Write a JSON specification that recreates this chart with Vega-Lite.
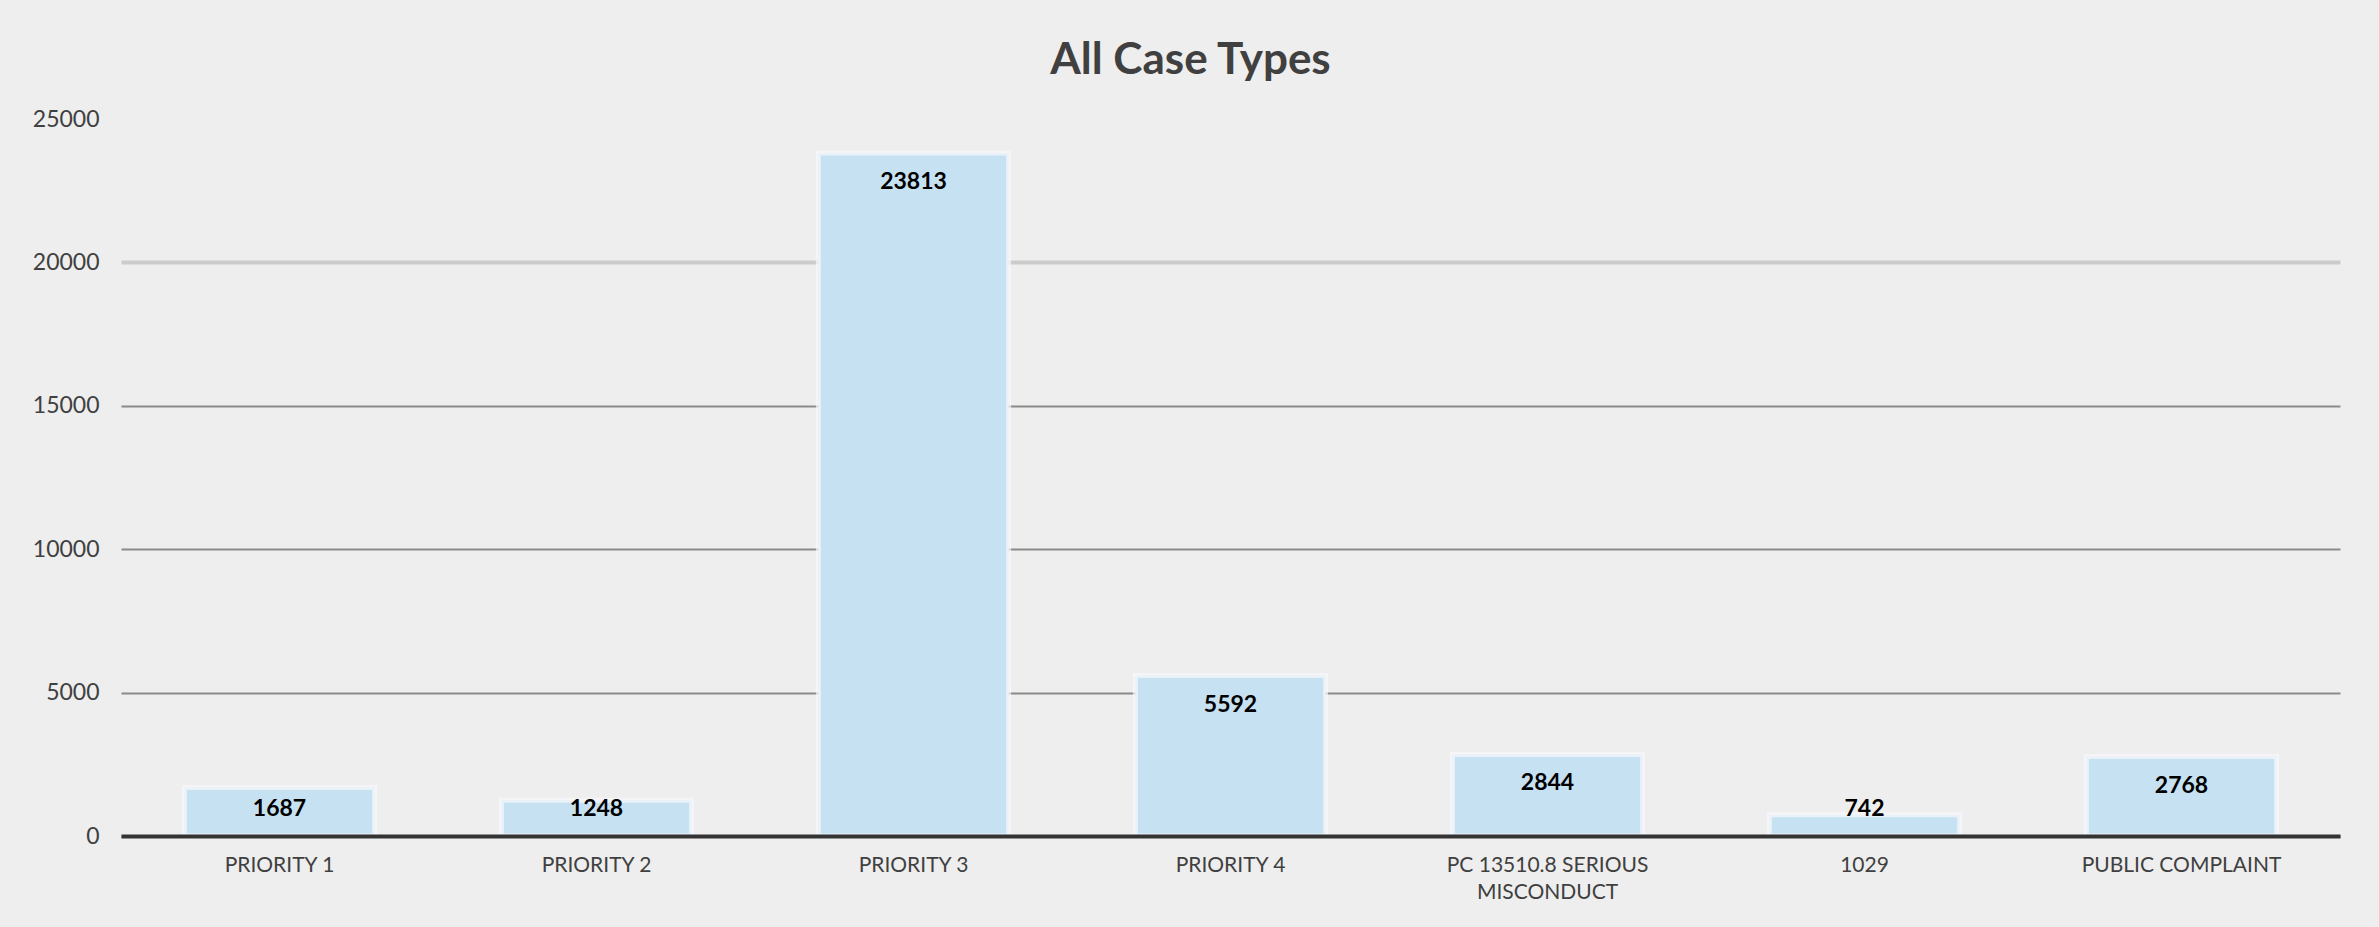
{
  "$schema": "https://vega.github.io/schema/vega-lite/v6.json",
  "width": 2219,
  "height": 717,
  "autosize": {"type": "none"},
  "padding": {"left": 121, "top": 119, "right": 39, "bottom": 91},
  "background": "#eeeeee",
  "title": {
    "text": "All Case Types",
    "font": "Lato",
    "fontSize": 44,
    "fontWeight": "bold",
    "color": "#404040",
    "anchor": "middle",
    "frame": "group",
    "dx": -40,
    "offset": 25
  },
  "data": {
    "values": [
      {"type": "PRIORITY 1", "count": 1687},
      {"type": "PRIORITY 2", "count": 1248},
      {"type": "PRIORITY 3", "count": 23813},
      {"type": "PRIORITY 4", "count": 5592},
      {"type": "PC 13510.8 SERIOUS MISCONDUCT", "count": 2844},
      {"type": "1029", "count": 742},
      {"type": "PUBLIC COMPLAINT", "count": 2768}
    ]
  },
  "encoding": {
    "x": {
      "field": "type",
      "type": "nominal",
      "sort": null,
      "scale": {"paddingInner": 0.4, "paddingOuter": 0.2},
      "axis": {
        "title": null,
        "labelAngle": 0,
        "labelFont": "Lato",
        "labelFontSize": 21,
        "labelColor": "#404040",
        "labelPadding": 18,
        "labelLineHeight": 27,
        "labelLimit": 0,
        "labelExpr": "datum.value == 'PC 13510.8 SERIOUS MISCONDUCT' ? ['PC 13510.8 SERIOUS', 'MISCONDUCT'] : datum.value",
        "ticks": false,
        "domainColor": "#333333",
        "domainWidth": 4,
        "zindex": 1
      }
    }
  },
  "layer": [
    {
      "mark": {"type": "bar", "color": "#c6e2f2", "stroke": "#f8f8fc", "strokeWidth": 5, "strokeOpacity": 0.7},
      "encoding": {
        "y": {
          "field": "count",
          "type": "quantitative",
          "scale": {"domain": [0, 25000], "nice": false},
          "axis": {
            "title": null,
            "values": [0, 5000, 10000, 15000, 20000, 25000],
            "format": "d",
            "labelFont": "Lato",
            "labelFontSize": 23,
            "labelColor": "#404040",
            "labelPadding": 22,
            "ticks": false,
            "domain": false,
            "grid": true,
            "gridColor": {"condition": {"test": "datum.value == 20000", "value": "#cbcbcb"}, "value": "#8a8a8a"},
            "gridOpacity": {"condition": {"test": "datum.value == 25000", "value": 0}, "value": 1},
            "gridWidth": {"condition": {"test": "datum.value == 20000", "value": 4}, "value": 2}
          }
        }
      }
    },
    {
      "transform": [{"filter": "datum.count >= 2000"}],
      "mark": {"type": "text", "dy": 29, "font": "Lato", "fontSize": 23, "fontWeight": "bold", "color": "#000000", "baseline": "middle"},
      "encoding": {
        "y": {"field": "count", "type": "quantitative"},
        "text": {"field": "count", "type": "quantitative"}
      }
    },
    {
      "transform": [{"filter": "datum.count < 2000"}],
      "mark": {"type": "text", "font": "Lato", "fontSize": 23, "fontWeight": "bold", "color": "#000000", "baseline": "middle"},
      "encoding": {
        "y": {"datum": 940, "type": "quantitative"},
        "text": {"field": "count", "type": "quantitative"}
      }
    }
  ],
  "config": {"view": {"stroke": null}}
}
